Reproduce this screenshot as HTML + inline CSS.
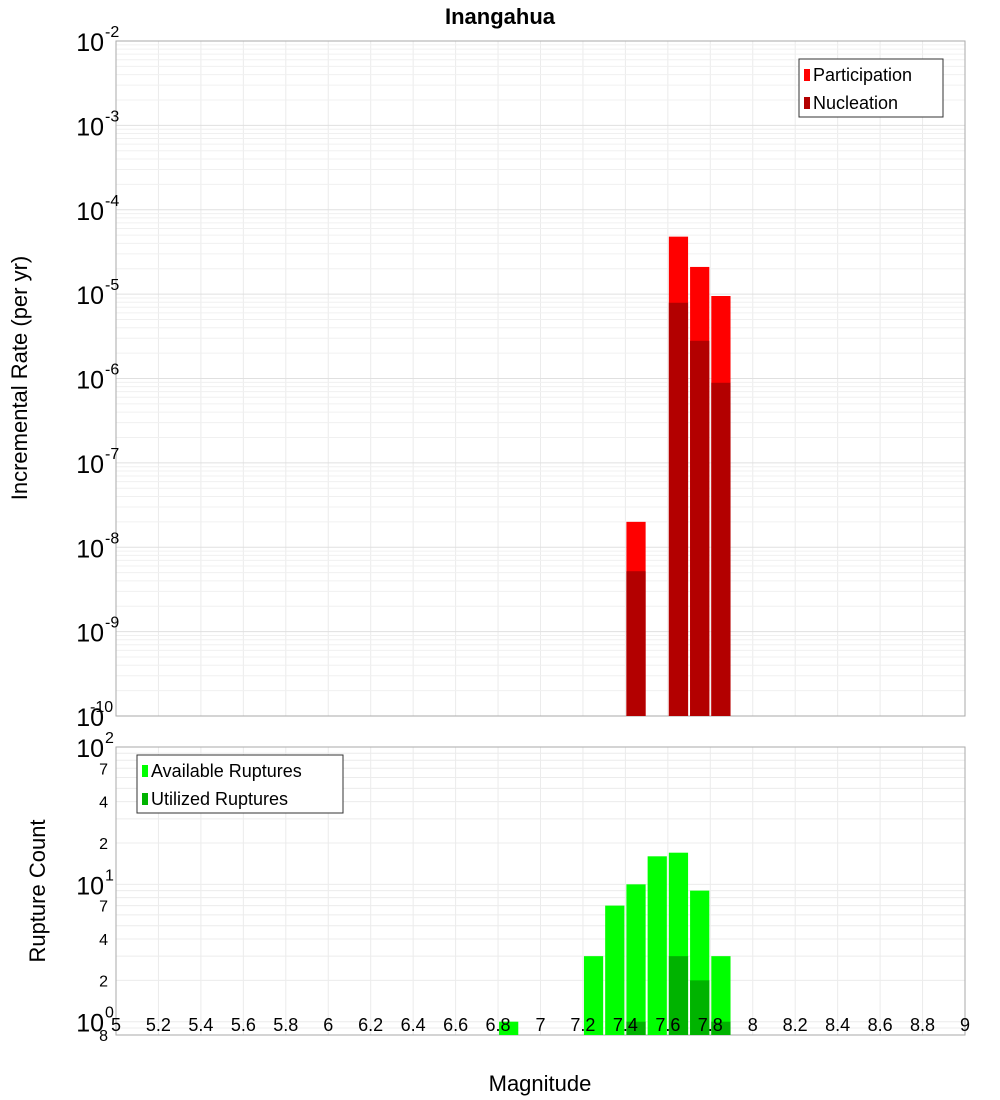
<!DOCTYPE html>
<html><head><meta charset="utf-8"><style>body{margin:0;background:#fff}svg{display:block;font-family:"Liberation Sans","DejaVu Sans",sans-serif}</style></head>
<body>
<svg id="c" width="1000" height="1100"></svg>
<script>
const mags = [6.85, 7.25, 7.35, 7.45, 7.55, 7.65, 7.75, 7.85];
const participation = [null, null, null, 2e-8, null, 4.8e-5, 2.1e-5, 9.5e-6];
const nucleation = [null, null, null, 5.2e-9, null, 7.9e-6, 2.8e-6, 8.9e-7];
const available = [1, 3, 7, 10, 16, 17, 9, 3];
const utilized = [null, null, null, 1, null, 3, 2, 1];
const xTicks = [5,5.2,5.4,5.6,5.8,6,6.2,6.4,6.6,6.8,7,7.2,7.4,7.6,7.8,8,8.2,8.4,8.6,8.8,9];
const topExps = [-2,-3,-4,-5,-6,-7,-8,-9,-10];
const botTicks = [[100,"10","2"],[70,"7",""],[40,"4",""],[20,"2",""],[10,"10","1"],[7,"7",""],[4,"4",""],[2,"2",""],[1,"10","0"],[0.8,"8",""]];

const NS="http://www.w3.org/2000/svg", svg=document.getElementById('c');
function mk(t,a,p){const e=document.createElementNS(NS,t);for(const k in a)e.setAttribute(k,a[k]);(p||svg).appendChild(e);return e;}
const X0=116,X1=965;
const x=m=>X0+(m-5)/4*(X1-X0);
const T0=41,T1=716; const yT=v=>T0+(-2-Math.log10(v))/8*(T1-T0);
const B0=747,B1=1035; const yB=v=>B0+(2-Math.log10(v))/(2-Math.log10(0.8))*(B1-B0);

function panel(y0,y1,name){
  const g=mk('g',{});
  for(let m=5.2;m<9;m+=0.2)mk('line',{x1:x(m),x2:x(m),y1:y0,y2:y1,stroke:'#ebebeb'},g);
  return g;
}
// top panel
const tg=panel(T0,T1,'top');
for(let e=-10;e<-2;e++)for(let k=1;k<10;k++){const v=k*Math.pow(10,e);mk('line',{x1:X0,x2:X1,y1:yT(v),y2:yT(v),stroke:k==1?'#e0e0e0':'#f0f0f0'},tg);}
mk('rect',{x:X0,y:T0,width:X1-X0,height:T1-T0,fill:'none',stroke:'#aaa'});
// bottom panel
const bg=panel(B0,B1,'bottom');
[0.8,0.9,1,2,3,4,5,6,7,8,9,10,20,30,40,50,60,70,80,90].forEach(v=>mk('line',{x1:X0,x2:X1,y1:yB(v),y2:yB(v),stroke:'#ececec'},bg));
mk('rect',{x:X0,y:B0,width:X1-X0,height:B1-B0,fill:'none',stroke:'#aaa'});

function bars(vals,yf,base,col,nm){
  mags.forEach((m,i)=>{const v=vals[i];if(v==null)return;
    const r=mk('rect',{x:x(m-0.05)+1,width:x(m+0.05)-x(m-0.05)-2,y:yf(v),height:base-yf(v),fill:col});
    });
}
bars(participation,yT,T1,'#ff0000','participation');
bars(nucleation,yT,T1,'#b30000','nucleation');
bars(available,yB,B1,'#00ff00','available');
bars(utilized,yB,B1,'#00b300','utilized');

// y tick labels top
topExps.forEach(e=>{const y=yT(Math.pow(10,e));
  const t=mk('text',{x:104,y:y+10,'text-anchor':'end','font-size':25,fill:'#000'});t.textContent='10';
  const s=mk('text',{x:105,y:y-4,'font-size':16,fill:'#000'});s.textContent=String(e);
  if(e==-10){s.setAttribute('x',90);}
});
botTicks.forEach(([v,a,b])=>{const y=yB(v);
  if(b){const t=mk('text',{x:104,y:y+10,'text-anchor':'end','font-size':25});t.textContent=a;
    const s=mk('text',{x:105,y:y-4,'font-size':16});s.textContent=b;}
  else{const t=mk('text',{x:108,y:y+6,'text-anchor':'end','font-size':16});t.textContent=a;}
});
xTicks.forEach(m=>{const t=mk('text',{x:x(m),y:1031,'text-anchor':'middle','font-size':18});t.textContent=String(m);});

// titles
let t=mk('text',{x:500,y:24,'text-anchor':'middle','font-size':22,'font-weight':'bold'});t.textContent='Inangahua';
t=mk('text',{x:540,y:1091,'text-anchor':'middle','font-size':22});t.textContent='Magnitude';
t=mk('text',{transform:'translate(27,378) rotate(-90)','text-anchor':'middle','font-size':22});t.textContent='Incremental Rate (per yr)';
t=mk('text',{transform:'translate(45,891) rotate(-90)','text-anchor':'middle','font-size':22});t.textContent='Rupture Count';

// legends
function legend(x0,y0,w,items,nm){const g=mk('g',{});
  mk('rect',{x:x0,y:y0,width:w,height:58,fill:'#fff',stroke:'#333'},g);
  items.forEach(([lab,col],i)=>{mk('rect',{x:x0+5,y:y0+10+i*28,width:6,height:12,fill:col},g);
    const t=mk('text',{x:x0+14,y:y0+22+i*28,'font-size':18},g);t.textContent=lab;});}
legend(799,59,144,[['Participation','#ff0000'],['Nucleation','#b30000']],'top-legend');
legend(137,755,206,[['Available Ruptures','#00ff00'],['Utilized Ruptures','#00b300']],'bottom-legend');
</script>
</body></html>
